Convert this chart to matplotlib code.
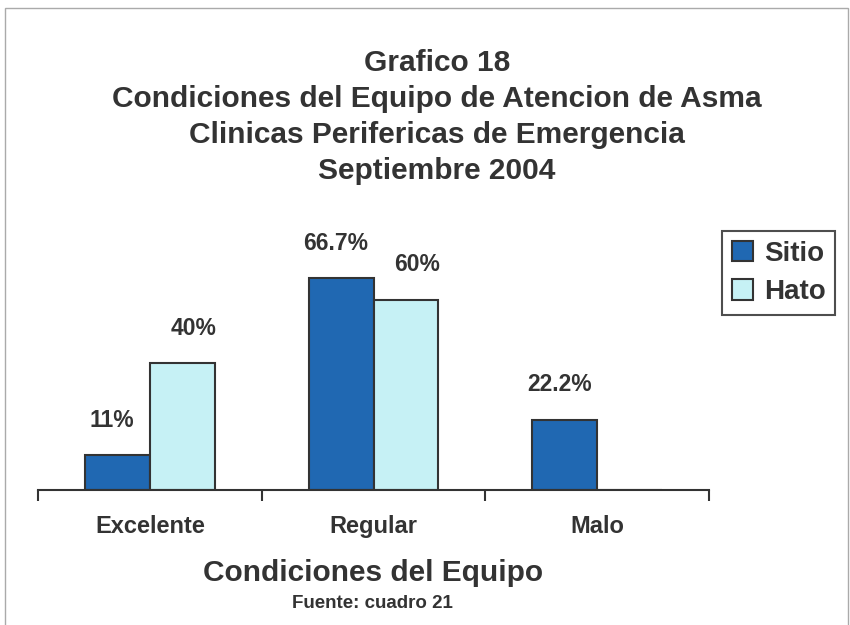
import numpy as np
import matplotlib
matplotlib.use("Agg")
import matplotlib.pyplot as plt
from matplotlib.patches import Rectangle

plt.rcParams['font.family'] = ['Liberation Sans', 'DejaVu Sans']
plt.rcParams['font.weight'] = 'bold'

categories = ["Excelente", "Regular", "Malo"]
sitio = [11, 66.7, 22.2]
hato = [40, 60, 0]
sitio_labels = ["11%", "66.7%", "22.2%"]
hato_labels = ["40%", "60%", ""]

txt = "#333333"
c_sitio = "#2068b2"
c_hato = "#c6f1f5"

fig = plt.figure(figsize=(8.5, 6.25), dpi=100)
# scanned page frame
fig.patches.append(Rectangle((0.006, -0.02), 0.992, 1.007, transform=fig.transFigure,
                             fill=False, edgecolor="#aaaaaa", linewidth=1.0))

ax = fig.add_axes([38 / 850, 135 / 625, (709 - 38) / 850, 254 / 625])
x = np.arange(len(categories))
w = 0.29
b1 = ax.bar(x - w / 2, sitio, w, color=c_sitio, edgecolor="#333333", linewidth=1.5, label="Sitio")
b2 = ax.bar(x + w / 2, hato, w, color=c_hato, edgecolor="#333333", linewidth=1.5, label="Hato")

for bar, lab in zip(b1, sitio_labels):
    ax.annotate(lab, (bar.get_x() + bar.get_width() / 2, bar.get_height()),
                xytext=(-4, 25), textcoords="offset points", ha="center", va="center",
                fontsize=16.5, fontweight="bold", color=txt)
for bar, lab in zip(b2, hato_labels):
    ax.annotate(lab, (bar.get_x() + bar.get_width() / 2, bar.get_height()),
                xytext=(8, 25), textcoords="offset points", ha="center", va="center",
                fontsize=16.5, fontweight="bold", color=txt)

ax.set_xlim(-0.5, len(categories) - 0.5)
ax.set_ylim(0, 80)
for s in ["top", "right", "left"]:
    ax.spines[s].set_visible(False)
ax.spines["bottom"].set_color("#333333")
ax.spines["bottom"].set_linewidth(1.5)
ax.set_yticks([])
ax.set_xticks(np.arange(len(categories) + 1) - 0.5)
ax.set_xticklabels([])
ax.tick_params(axis="x", which="major", direction="out", length=8, width=1.5, color="#333333")
ax.set_xticks(x, minor=True)
ax.set_xticklabels(categories, minor=True, fontsize=17, fontweight="bold", color=txt)
ax.tick_params(axis="x", which="minor", length=0, pad=18)

ax.set_xlabel("Condiciones del Equipo", fontsize=21.5, fontweight="bold", color=txt, labelpad=15)

leg = ax.legend(loc="upper left", bbox_to_anchor=(722 / 850, 1 - 231 / 625), bbox_transform=fig.transFigure,
                fontsize=20, frameon=True, fancybox=False, handlelength=0.75, handleheight=0.75,
                handletextpad=0.4, borderpad=0.35, labelspacing=0.45, borderaxespad=0)
leg.get_frame().set_edgecolor("#222222")
leg.get_frame().set_linewidth(1.5)
for t in leg.get_texts():
    t.set_color(txt)
    t.set_fontweight("bold")

title_lines = ["Grafico 18", "Condiciones del Equipo de Atencion de Asma",
               "Clinicas Perifericas de Emergencia", "Septiembre 2004"]
for i, line in enumerate(title_lines):
    fig.text(437 / 850, 1 - (63 + 36 * i) / 625, line, ha="center", va="center",
             fontsize=21.5, fontweight="bold", color=txt)

fig.text(372 / 850, 1 - 603 / 625, "Fuente: cuadro 21", ha="center", va="center",
         fontsize=13.5, fontweight="bold", color=txt)

fig.savefig("out.png", dpi=100, facecolor="white")
